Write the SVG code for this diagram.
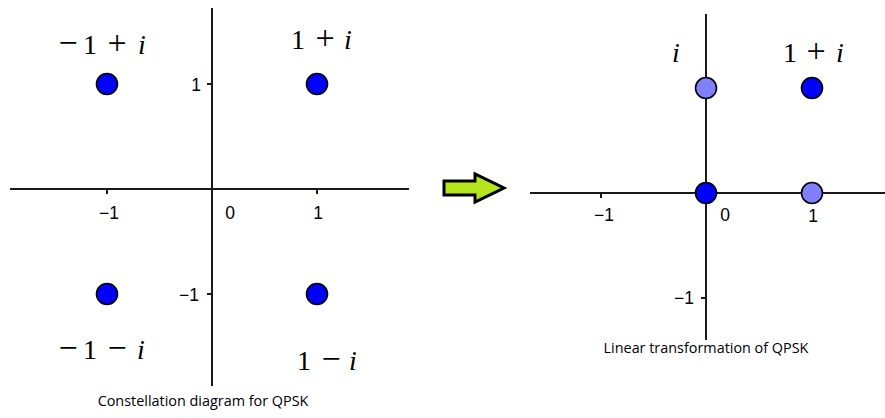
<svg xmlns="http://www.w3.org/2000/svg" width="885" height="418" viewBox="0 0 885 418">
<style>
.ax{stroke:#1a1a1a;stroke-width:2;fill:none}
.tk{font-family:"Liberation Sans",Arimo,Arial,sans-serif;font-size:17.5px;fill:#000}
.m{font-family:"Liberation Serif","Times New Roman",serif;font-size:28px;fill:#000;text-anchor:middle}
.op{font-size:34px}
.mi{font-style:italic}
.cap{font-family:"Open Sans","Liberation Sans",sans-serif;font-size:14.4px;fill:#000}
.d{fill:#0000ff;stroke:#000;stroke-width:1.6}
.l{fill:#8080ff;stroke:#000;stroke-width:1.6}
</style>
<rect width="885" height="418" fill="#fff"/>
<g id="axes-left">
<line class="ax" x1="10" y1="189" x2="409" y2="189"/>
<line class="ax" x1="212" y1="8" x2="212" y2="386"/>
<line class="ax" x1="107" y1="189" x2="107" y2="194"/>
<line class="ax" x1="317" y1="189" x2="317" y2="194"/>
<line class="ax" x1="207" y1="84" x2="212" y2="84"/>
<line class="ax" x1="207" y1="294" x2="212" y2="294"/>
<text class="tk" x="109" y="219" text-anchor="middle">−1</text>
<text class="tk" x="230" y="219" text-anchor="middle">0</text>
<text class="tk" x="318" y="219" text-anchor="middle">1</text>
<text class="tk" x="201" y="91" text-anchor="end">1</text>
<text class="tk" x="199" y="301" text-anchor="end">−1</text>
</g>
<g id="p-m1pi"><circle class="d" cx="107" cy="84" r="10.5"/><text class="m" y="54"><tspan class="op" x="68">−</tspan><tspan x="90">1</tspan><tspan class="op" x="117">+</tspan><tspan class="mi" x="142">i</tspan></text></g>
<g id="p-1pi"><circle class="d" cx="317" cy="84" r="10.5"/><text class="m" y="49"><tspan x="298">1</tspan><tspan class="op" x="325">+</tspan><tspan class="mi" x="348">i</tspan></text></g>
<g id="p-m1mi"><circle class="d" cx="107" cy="294" r="10.5"/><text class="m" y="359"><tspan class="op" x="68">−</tspan><tspan x="90">1</tspan><tspan class="op" x="117">−</tspan><tspan class="mi" x="141">i</tspan></text></g>
<g id="p-1mi"><circle class="d" cx="317" cy="294" r="10.5"/><text class="m" y="370"><tspan x="304">1</tspan><tspan class="op" x="331">−</tspan><tspan class="mi" x="353">i</tspan></text></g>
<text class="cap" x="203" y="406" text-anchor="middle">Constellation diagram for QPSK</text>
<g id="connectors">
<path d="M444 181 H475 V174 L504 188 L475 202 V195 H444 Z" fill="#b5e61d" stroke="#000" stroke-width="3" stroke-linejoin="miter"/>
</g>
<g id="axes-right">
<line class="ax" x1="530" y1="193" x2="885" y2="193"/>
<line class="ax" x1="706" y1="14" x2="706" y2="340"/>
<line class="ax" x1="601" y1="193" x2="601" y2="198"/>
<line class="ax" x1="812" y1="193" x2="812" y2="198"/>
<line class="ax" x1="701" y1="298" x2="706" y2="298"/>
<text class="tk" x="604" y="221" text-anchor="middle">−1</text>
<text class="tk" x="725" y="221" text-anchor="middle">0</text>
<text class="tk" x="813" y="222" text-anchor="middle">1</text>
<text class="tk" x="694" y="304" text-anchor="end">−1</text>
</g>
<g id="q-i"><circle class="l" cx="706" cy="88" r="10.5"/><text class="m mi" x="676" y="62">i</text></g>
<g id="q-1pi"><circle class="d" cx="812" cy="88" r="10.5"/><text class="m" y="62"><tspan x="790">1</tspan><tspan class="op" x="816">+</tspan><tspan class="mi" x="840">i</tspan></text></g>
<g id="q-0"><circle class="d" cx="706" cy="193" r="10.5"/></g>
<g id="q-1"><circle class="l" cx="812" cy="193" r="10.5"/></g>
<text class="cap" x="706" y="353" text-anchor="middle">Linear transformation of QPSK</text>
</svg>
